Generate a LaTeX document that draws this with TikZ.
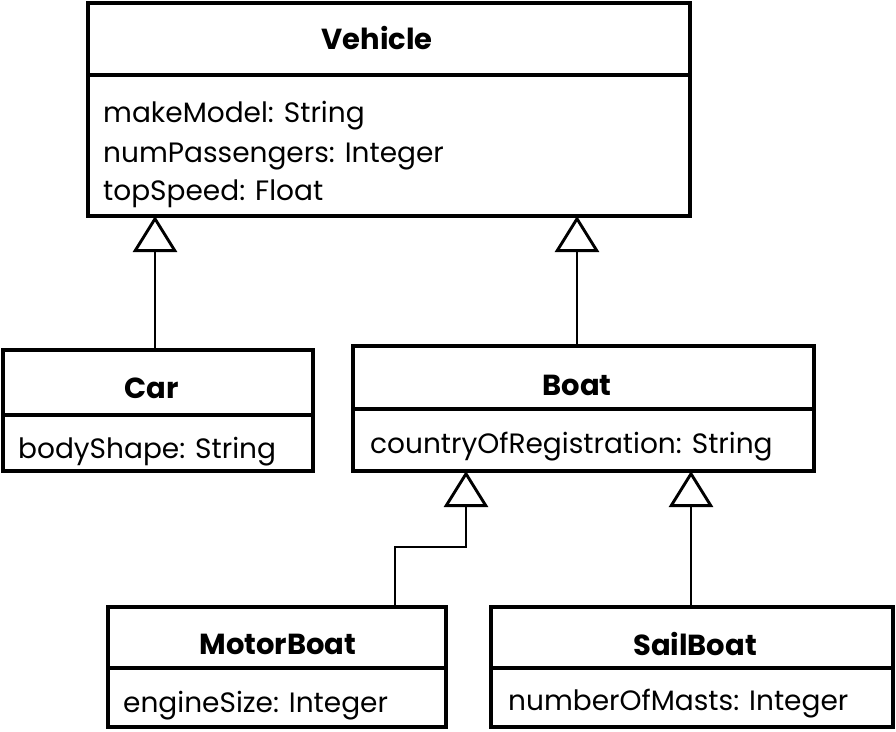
\documentclass[tikz,border=0pt]{standalone}
\usepackage{fontspec}
\setmainfont{Poppins}
\usetikzlibrary{arrows.meta}
\begin{document}
\begin{tikzpicture}[x=1pt,y=-1pt,
  box/.style={draw, line width=3.2pt, rectangle, inner sep=0pt, outer sep=0pt, anchor=north west},
  title/.style={font=\fontsize{29}{34}\selectfont\bfseries, inner sep=0pt, anchor=base},
  attr/.style={font=\fontsize{28}{39}\selectfont, inner sep=0pt, anchor=base west},
  inh/.style={line width=2.9pt, -{Triangle[open, length=36pt, width=44pt]}}]
\useasboundingbox[fill=white] (0,0) rectangle (896,731);
% class boxes
\node[box, minimum width=602pt, minimum height=72pt]  (vehH)  at (88,3) {};
\node[box, minimum width=602pt, minimum height=141pt] (vehB)  at (88,75) {};
\node[box, minimum width=310pt, minimum height=65pt]  (carH)  at (3,350) {};
\node[box, minimum width=310pt, minimum height=56pt]  (carB)  at (3,415) {};
\node[box, minimum width=461pt, minimum height=63pt]  (boatH) at (353,346) {};
\node[box, minimum width=461pt, minimum height=62pt]  (boatB) at (353,409) {};
\node[box, minimum width=338pt, minimum height=61pt]  (motH)  at (108,607) {};
\node[box, minimum width=338pt, minimum height=59pt]  (motB)  at (108,668) {};
\node[box, minimum width=402pt, minimum height=61pt]  (sailH) at (491,607) {};
\node[box, minimum width=402pt, minimum height=59pt]  (sailB) at (491,668) {};
% titles
\node[title] (vehT)  at (377,49)  {Vehicle};
\node[title] (carT)  at (152,398) {Car};
\node[title] (boatT) at (577,395) {Boat};
\node[title] (motT)  at (278,654) {MotorBoat};
\node[title] (sailT) at (695,655) {SailBoat};
% attributes
\node[attr] (vehA1) at (103,122) {makeModel: String};
\node[attr] (vehA2) at (103,162) {numPassengers: Integer};
\node[attr] (vehA3) at (103,200) {topSpeed: Float};
\node[attr] (carA)  at (18,458)  {bodyShape: String};
\node[attr] (boatA) at (370,453) {countryOfRegistration: String};
\node[attr] (motA)  at (123,712) {engineSize: Integer};
\node[attr] (sailA) at (508,710) {numberOfMasts: Integer};
% inheritance connectors
\draw[inh] (155,0 |- carH.north) -- (155,0 |- vehB.south);
\draw[inh] (577,0 |- boatH.north) -- (577,0 |- vehB.south);
\draw[inh] (691,0 |- sailH.north) -- (691,0 |- boatB.south);
\draw[inh] (395,0 |- motH.north) -- (395,547) -- (466,547) -- (466,0 |- boatB.south);
\end{tikzpicture}
\end{document}
